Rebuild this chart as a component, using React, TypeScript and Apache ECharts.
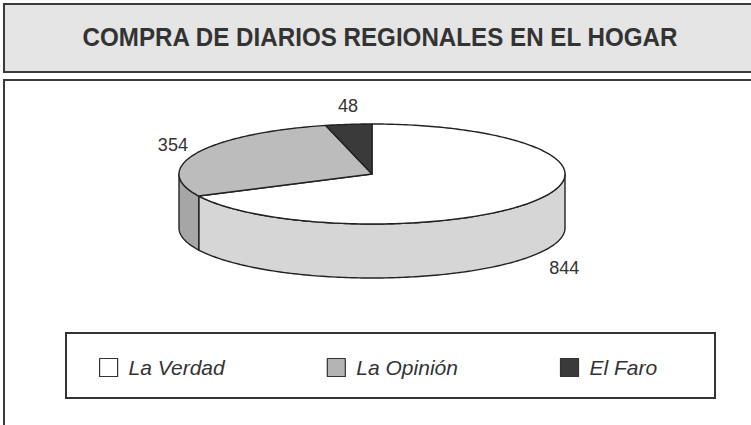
import React, { useEffect, useRef } from "react";
import * as echarts from "echarts";

const CATEGORIES = ["La Verdad", "La Opinión", "El Faro"];
const VALUES = [844, 354, 48];
const TITLE = "COMPRA DE DIARIOS REGIONALES EN EL HOGAR";

const TOP_COLORS = ["#ffffff", "#bcbcbc", "#3a3a3a"];
const SIDE_COLORS = ["#d6d6d6", "#a6a6a6", "#2a2a2a"];
const LEGEND_COLORS = ["#ffffff", "#b4b4b4", "#3a3a3a"];

const CX = 372;
const CY = 174;
const RX = 193;
const RY = 50;
const TH = 54;
const FONT = '"Liberation Sans", Arial, Helvetica, sans-serif';

const rad = (d: number) => (d * Math.PI) / 180;

function arc(from: number, to: number, dy: number): number[][] {
  const n = Math.max(2, Math.ceil(Math.abs(to - from)));
  const pts: number[][] = [];
  for (let k = 0; k <= n; k++) {
    const a = from + ((to - from) * k) / n;
    pts.push([CX + RX * Math.cos(rad(a)), CY - RY * Math.sin(rad(a)) + dy]);
  }
  return pts;
}

export default function App() {
  const ref = useRef<HTMLDivElement>(null);
  useEffect(() => {
    if (!ref.current) return;
    const chart = echarts.init(ref.current, null, { renderer: "svg" });
    const total = VALUES.reduce((s, v) => s + v, 0);
    const starts: number[] = [];
    const ends: number[] = [];
    let acc = 90;
    VALUES.forEach((v) => {
      starts.push(acc);
      acc -= (v / total) * 360;
      ends.push(acc);
    });

    const renderItem = (params: any, api: any) => {
      const i = params.dataIndex;
      const v = api.value(0);
      const a0 = starts[i];
      const a1 = ends[i];
      const children: any[] = [];
      const lo = Math.min(a0, a1);
      const hi = Math.max(a0, a1);
      for (let k = -2; k <= 2; k++) {
        const s = Math.max(lo, -180 + 360 * k);
        const e = Math.min(hi, 0 + 360 * k);
        if (e - s > 0.01) {
          const top = arc(s, e, 0);
          const bot = arc(e, s, TH);
          children.push({
            type: "polygon",
            shape: { points: top.concat(bot) },
            style: { fill: SIDE_COLORS[i], stroke: "#222", lineWidth: 1.4, lineJoin: "round" },
          });
        }
      }
      children.push({
        type: "polygon",
        shape: { points: [[CX, CY]].concat(arc(a0, a1, 0)) },
        style: { fill: TOP_COLORS[i], stroke: "#222", lineWidth: 1.4, lineJoin: "round" },
      });
      const mid = (a0 + a1) / 2;
      const c = Math.cos(rad(mid));
      const s = Math.sin(rad(mid));
      const px = CX + RX * c + c * 30 + 3;
      const py = CY - RY * s + (s < 0 ? TH + 4 : 0) - s * 19;
      children.push({
        type: "text",
        x: px,
        y: py,
        style: {
          text: String(v),
          fill: "#333",
          font: `18px ${FONT}`,
          textAlign: "center",
          textVerticalAlign: "middle",
        },
      });
      return { type: "group", children };
    };

    chart.setOption({
      animation: false,
      backgroundColor: "#ffffff",
      graphic: [
        {
          type: "rect",
          z: -10,
          shape: { x: 4, y: 4, width: 770, height: 68 },
          style: { fill: "#e5e5e5", stroke: "#3a3a3a", lineWidth: 2 },
        },
        {
          type: "text",
          x: 380,
          y: 37,
          scaleX: 0.93,
          style: {
            text: TITLE,
            fill: "#333",
            font: `bold 26px ${FONT}`,
            textAlign: "center",
            textVerticalAlign: "middle",
          },
        },
        {
          type: "rect",
          z: -10,
          shape: { x: 4, y: 80, width: 770, height: 360 },
          style: { fill: "#ffffff", stroke: "#3a3a3a", lineWidth: 2 },
        },
        {
          type: "rect",
          shape: { x: 66, y: 333, width: 649, height: 65 },
          style: { fill: "none", stroke: "#333", lineWidth: 2 },
        },
      ],
      legend: {
        left: 99,
        top: 357,
        padding: 0,
        itemWidth: 18,
        itemHeight: 18,
        itemGap: 102,
        icon: "rect",
        data: CATEGORIES,
        itemStyle: { borderColor: "#333", borderWidth: 1.2 },
        textStyle: {
          color: "#333",
          fontSize: 21,
          fontStyle: "italic",
          fontFamily: FONT,
          padding: [0, 0, 0, 6],
        },
        selectedMode: false,
      },
      series: [
        {
          type: "custom",
          name: "pie3d",
          coordinateSystem: "none",
          renderItem,
          data: VALUES.map((v) => [v]),
          silent: true,
        },
        {
          type: "pie",
          name: "legend",
          radius: [0, 0],
          center: [-100, -100],
          silent: true,
          label: { show: false },
          labelLine: { show: false },
          data: CATEGORIES.map((name, i) => ({
            name,
            value: VALUES[i],
            itemStyle: { color: LEGEND_COLORS[i], borderColor: "#333", borderWidth: 1.2 },
          })),
        },
      ],
    });
    return () => chart.dispose();
  }, []);
  return (
    <div
      ref={ref}
      style={{ position: "fixed", left: 0, top: 0, width: 751, height: 425 }}
    />
  );
}
